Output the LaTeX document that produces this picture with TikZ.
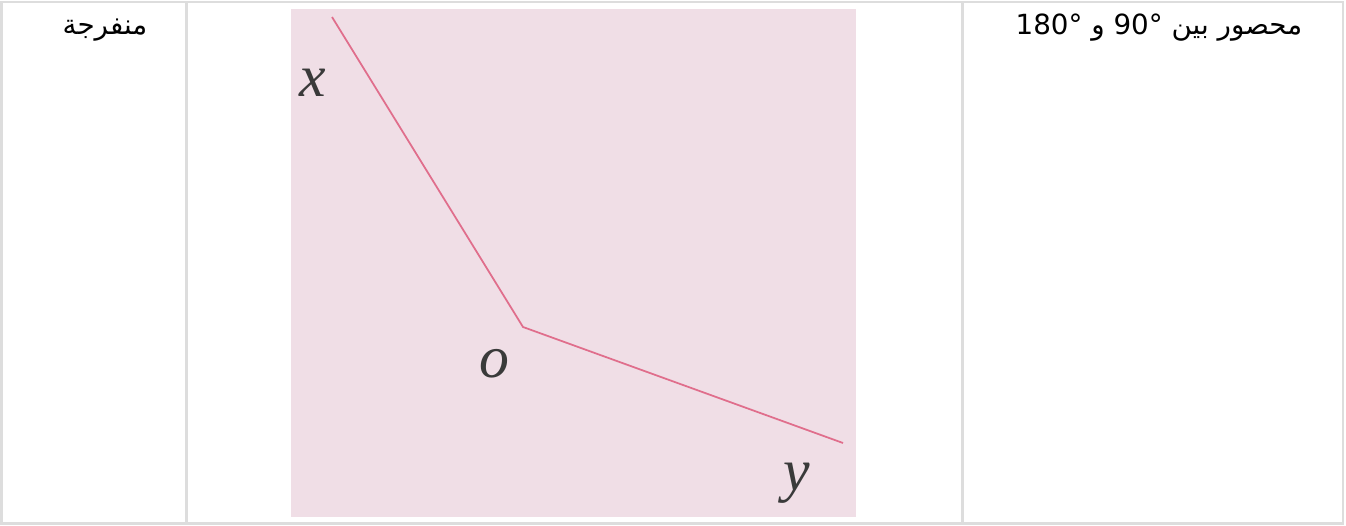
\documentclass[tikz,border=0pt]{standalone}
\usepackage{fontspec}
\setmainfont{Liberation Serif}
\newfontfamily\arabicfont[Script=Arabic]{DejaVu Sans}
\TeXXeTstate=1
\usepackage{xcolor}
\usepackage{tikz}
\usetikzlibrary{positioning}
\definecolor{softPink}{HTML}{F0DEE6}
\definecolor{rayPink}{HTML}{E06E8C}
\definecolor{lineGray}{HTML}{DDDDDD}
\definecolor{inkGray}{HTML}{3A3A3A}

\begin{document}
\begin{tikzpicture}[
    cellText/.style={anchor=base east, inner sep=0pt, font=\arabicfont\fontsize{7.9}{9}\selectfont},
    rayLabel/.style={inner sep=0pt, text=inkGray, font=\itshape\fontsize{17}{19}\selectfont}]
    \useasboundingbox (0,0) rectangle (13.46,5.25);
    % table borders
    \draw[line width=0.6pt, draw=lineGray] (0.015,0.015) rectangle (13.43,5.23);
    \draw[line width=0.6pt, draw=lineGray] (1.865,0.015) -- (1.865,5.23);
    \draw[line width=0.6pt, draw=lineGray] (9.625,0.015) -- (9.625,5.23);

    % scanned figure
    \fill[softPink] (2.91,0.08) rectangle (8.56,5.16);
    \coordinate (X) at (3.32,5.08);
    \coordinate (O) at (5.23,1.98);
    \coordinate (Y) at (8.43,0.82);
    \draw[rayPink, line width=0.5pt] (X) -- (O) -- (Y);
    \node[rayLabel] (lblX) at (3.13,4.42) {x};
    \node[rayLabel] (lblO) at (4.94,1.61) {o};
    \node[rayLabel] (lblY) at (7.97,0.42) {y};

    % cell texts
    \node[cellText] (range) at (13.03,4.90) {\beginR محصور بين \beginL90°\endL{} و \beginL180°\endL\endR};
    \node[cellText] (kind) at (1.48,4.90) {\beginR منفرجة\endR};
\end{tikzpicture}
\end{document}
